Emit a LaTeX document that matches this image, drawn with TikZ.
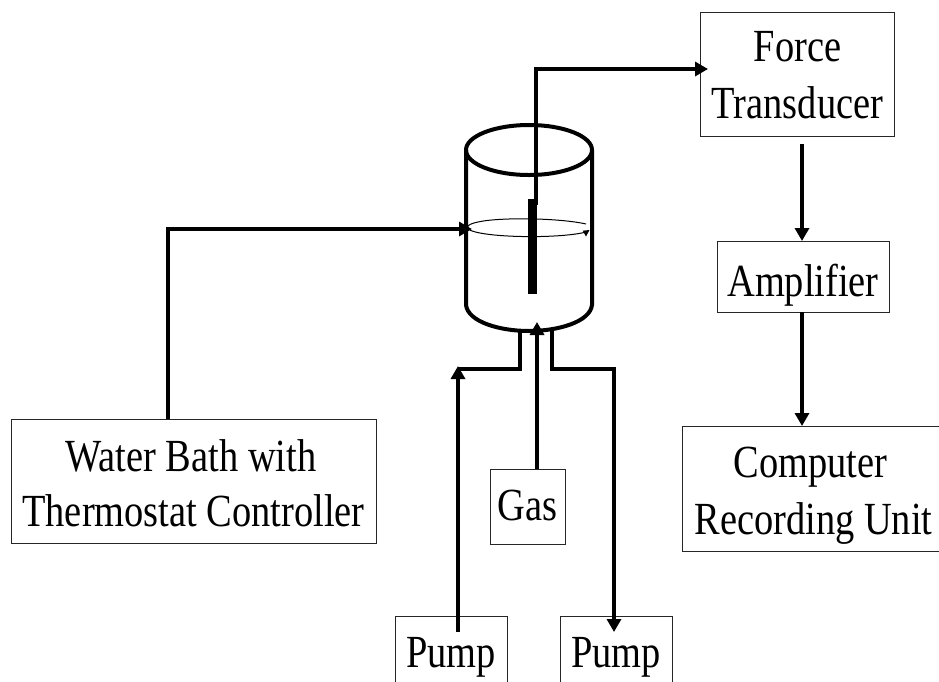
\documentclass[tikz,border=0pt]{standalone}
\usepackage{fontspec}
\setmainfont[FakeStretch=0.835]{Liberation Serif}
\usetikzlibrary{arrows.meta}
\newcommand\oneline[2]{\raisebox{-#1pt}[0pt][0pt]{#2}}
\newcommand\twolines[4][57]{\raisebox{-#2pt}[0pt][0pt]{\vbox{\baselineskip=#1pt\halign{\hfil##\hfil\cr #3\cr #4\cr}}}}
\tikzset{
 boxnode/.style={draw=black!85,line width=1pt,fill=white,inner sep=0pt,font=\fontsize{46}{57}\selectfont},
 wire/.style={line width=3.8pt,line cap=butt,line join=miter},
 arrowwire/.style={wire,-{Triangle[length=13pt,width=14pt]}},
 vessel/.style={line width=4pt},
}
\begin{document}
\begin{tikzpicture}[x=1pt,y=-1pt]
\useasboundingbox (0,0) rectangle (939,681);
\path[clip] (0,0) rectangle (939,681);
\node[boxnode,minimum width=194pt,minimum height=124pt] (force) at (797.5,74) {\twolines{44}{Force}{Transducer}};
\node[boxnode,minimum width=172pt,minimum height=71pt] (amp) at (803,276.5) {\oneline{20}{Amplifier}};
\node[boxnode,minimum width=257pt,minimum height=125pt] (comp) at (810.5,488.5) {\twolines{46}{Computer}{\kern6pt Recording Unit}};
\node[boxnode,minimum width=365pt,minimum height=124pt] (bath) at (193.5,481) {\twolines[55]{45}{Water Bath with\kern5pt}{Thermostat Controller}};
\node[boxnode,minimum width=75pt,minimum height=75pt] (gas) at (527.5,506.5) {\oneline{14}{Gas}};
\node[boxnode,minimum width=112pt,minimum height=80pt] (pumpa) at (451,656) {\oneline{11}{Pump}};
\node[boxnode,minimum width=112pt,minimum height=80pt] (pumpb) at (616,656) {\oneline{11}{Pump}};
% vessel
\coordinate (lidL) at (466,150);
\coordinate (lidR) at (592,150);
\coordinate (baseL) at (466,305);
\coordinate (baseR) at (592,305);
\coordinate (inL) at (472,229);
\coordinate (portA) at (520,331);
\coordinate (portB) at (552,331);
\coordinate (portG) at (537,322);
\coordinate (rodTop) at (536,205);
\coordinate (elbowA) at (458,369);
\coordinate (tipA) at (458,366);
\coordinate (elbowB) at (614,369);
\coordinate (forceIn) at (708,69);
\coordinate (forceOut) at (802,144);
\coordinate (ampIn) at (802,241);
\coordinate (ampOut) at (802,312);
\coordinate (compIn) at (802,426);
\coordinate (bathOut) at (168,419);
\coordinate (gasOut) at (537,469);
\coordinate (pumpaOut) at (458,632);
\coordinate (pumpbIn) at (614,632);
\draw[vessel] (529,150) ellipse [x radius=63,y radius=25];
\draw[vessel] (lidL) -- (baseL) .. controls (468,322) and (500,331) .. (529,331) .. controls (558,331) and (590,322) .. (baseR) -- (lidR);
\draw[line width=1pt] (586,224) .. controls (560,218) and (500,217) .. (478,222) .. controls (468,224) and (466,227) .. (468,229) .. controls (480,238) and (560,239) .. (586,232);
\fill (582.7,230.7) -- (589.5,230) -- (586,236.5) -- cycle;
\fill (528,199) rectangle (537,294);
% connectors
\draw[arrowwire] (rodTop) -- (536,69) -- (forceIn);
\draw[arrowwire] (forceOut) -- (ampIn);
\draw[arrowwire] (ampOut) -- (compIn);
\draw[arrowwire] (bathOut) -- (168,229) -- (inL);
\draw[arrowwire] (gasOut) -- (portG);
\draw[wire] (portA) -- (520,369) -- (elbowA);
\draw[arrowwire] (pumpaOut) -- (tipA);
\draw[arrowwire] (portB) -- (552,369) -- (elbowB) -- (pumpbIn);
\end{tikzpicture}
\end{document}
